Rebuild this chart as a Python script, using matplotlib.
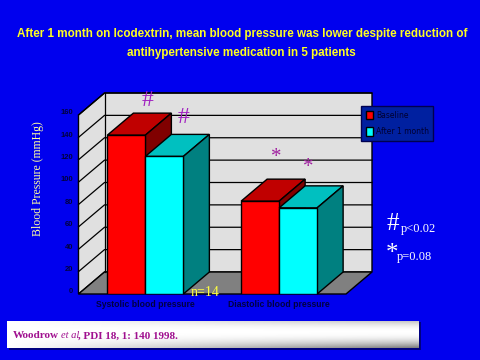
import matplotlib

matplotlib.use("Agg")
import matplotlib.pyplot as plt
import numpy as np
from matplotlib.patches import Patch, Polygon

categories = ["Systolic blood pressure", "Diastolic blood pressure"]
baseline = [142, 83]
after_month = [123, 77]
y_ticks = [0, 20, 40, 60, 80, 100, 120, 140, 160]
series_names = ["Baseline", "After 1 month"]

BLUE = "#0000EE"
SANS = ["Liberation Sans", "DejaVu Sans"]
SERIF = ["Liberation Serif", "DejaVu Serif"]

W, H = 480, 360
fig = plt.figure(figsize=(W / 100, H / 100), dpi=100, facecolor=BLUE)


def px_text(x, y, s, **kw):
    kw.setdefault("ha", "center")
    kw.setdefault("va", "center")
    return fig.text(x / W, 1 - y / H, s, **kw)


# front plane of the fake 3d box, data units on both axes
left, right, top, bottom = 78.5, 346, 115, 294
ax = fig.add_axes([left / W, 1 - bottom / H, (right - left) / W, (bottom - top) / H])
ax.set_xlim(-0.5, 1.5)
ax.set_ylim(0, 160)
ax.axis("off")

dx = 26 / (right - left) * 2
dy = 22 / (bottom - top) * 160
bar_w = 38 / (right - left) * 2
x0, x1 = -0.5, 1.5


def poly(pts, fc, z, ec="black", lw=1.0):
    ax.add_patch(Polygon(pts, closed=True, fc=fc, ec=ec, lw=lw, zorder=z, clip_on=False))


# walls and floor
poly([(x0, 0), (x0 + dx, dy), (x1 + dx, dy), (x1 + dx, 160 + dy), (x0 + dx, 160 + dy), (x0, 160)], "#E0E0E0", 1)
poly([(x0, 0), (x1, 0), (x1 + dx, dy), (x0 + dx, dy)], "#808080", 2)
for t in y_ticks[1:]:
    ax.plot([x0, x0 + dx, x1 + dx], [t, t + dy, t + dy], color="black", lw=0.9, zorder=2, clip_on=False)
ax.plot([x0 + dx, x0 + dx], [dy, 160 + dy], color="black", lw=0.9, zorder=2, clip_on=False)
for t in y_ticks:
    ax.text(x0 - 0.04, t + 2, str(t), ha="right", va="center", fontsize=5.5, color="#000040", fontweight="bold", family=SANS)


def bar3d(x, v, face, top_c, side, z):
    ax.bar(x, v, width=bar_w, align="edge", color=face, edgecolor="black", lw=1.0, zorder=z + 1)
    poly([(x, v), (x + bar_w, v), (x + bar_w + dx, v + dy), (x + dx, v + dy)], top_c, z)
    poly([(x + bar_w, 0), (x + bar_w + dx, dy), (x + bar_w + dx, v + dy), (x + bar_w, v)], side, z)


for i in range(len(categories)):
    bar3d(i - bar_w, baseline[i], "#FF0000", "#C00000", "#800000", 3 + i * 4)
    bar3d(i, after_month[i], "#00FFFF", "#00C0C0", "#008080", 5 + i * 4)
    ax.text(i, -9.5, categories[i], ha="center", va="center", fontsize=6.2, color="#000040", fontweight="bold", family=SANS)

legend = ax.legend(
    handles=[
        Patch(fc="#FF0000", ec="black", label=series_names[0]),
        Patch(fc="#00FFFF", ec="black", label=series_names[1]),
    ],
    loc="upper left",
    bbox_to_anchor=(361 / W, 1 - 106 / H),
    bbox_transform=fig.transFigure,
    fontsize=5.5,
    facecolor="#0020A0",
    edgecolor="#000050",
    framealpha=1,
    fancybox=False,
    labelcolor="#000030",
    handlelength=0.95,
    handleheight=1.4,
    handletextpad=0.4,
    labelspacing=1.0,
    borderpad=0.6,
    borderaxespad=0,
)
legend.set_zorder(20)

title_style = {"fontsize": 8.4, "fontweight": "bold", "color": "#FFFF20", "family": SANS}
px_text(242, 34, "After 1 month on Icodextrin, mean blood pressure was lower despite reduction of", **title_style)
px_text(241, 53, "antihypertensive medication in 5 patients", **title_style)
px_text(38, 179, "Blood Pressure (mmHg)", rotation=90, fontsize=8.5, color="#FFFFA0", family=SERIF)

for x, y in [(148, 101), (184, 118)]:
    px_text(x, y, "#", fontsize=17, color="#A020C0", family=SERIF, zorder=30)
for x, y in [(276, 158), (308, 167)]:
    px_text(x, y, "*", fontsize=15, color="#A020A0", family=SERIF, zorder=30)
px_text(205, 292, "n=14", fontsize=10, color="#FFFF40", family=SERIF, zorder=30)
px_text(393, 224, "#", fontsize=18, color="white", family=SERIF)
px_text(418, 229, "p<0.02", fontsize=9, color="white", family=SERIF)
px_text(392, 254, "*", fontsize=18, color="white", family=SERIF)
px_text(414, 257, "p=0.08", fontsize=9, color="white", family=SERIF)

# citation band
shadow = fig.add_axes([9 / W, 1 - 350 / H, 412 / W, 28 / H])
shadow.set_facecolor("#000080")
shadow.set_xticks([])
shadow.set_yticks([])
for s in shadow.spines.values():
    s.set_visible(False)
band = fig.add_axes([7 / W, 1 - 348 / H, 412 / W, 27 / H])
ramp_x = np.linspace(0, 1, 200)[None, :]
ramp_y = np.abs(np.linspace(-1, 1, 40) + 0.2)[:, None]
band.imshow(1 - 0.35 * ramp_x * ramp_y**2, cmap="gray", vmin=0, vmax=1, aspect="auto")
band.axis("off")
cite = {"color": "#A0108F", "family": SERIF, "ha": "left", "va": "center", "zorder": 40}
fig.text(13 / W, 1 - 336 / H, "Woodrow", fontsize=8, fontweight="bold", **cite)
fig.text(61.5 / W, 1 - 336 / H, "et al", fontsize=7.6, style="italic", **cite)
fig.text(78 / W, 1 - 336 / H, ", PDI 18, 1: 140 1998.", fontsize=8, fontweight="bold", **cite)

fig.savefig("out.png", dpi=100, facecolor=BLUE)
